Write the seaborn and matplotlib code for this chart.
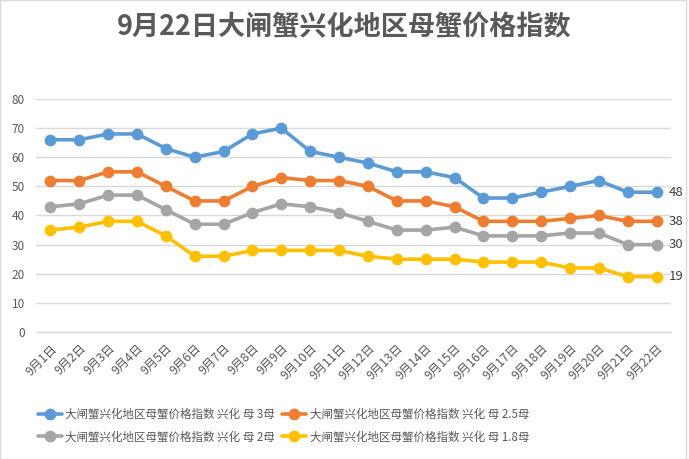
import matplotlib
matplotlib.use("Agg")
import matplotlib.pyplot as plt
import seaborn as sns
import pandas as pd
from matplotlib.patches import Rectangle

dates = [f"9月{d}日" for d in range(1, 23)]
series_names = [
    "大闸蟹兴化地区母蟹价格指数 兴化 母 3母",
    "大闸蟹兴化地区母蟹价格指数 兴化 母 2.5母",
    "大闸蟹兴化地区母蟹价格指数 兴化 母 2母",
    "大闸蟹兴化地区母蟹价格指数 兴化 母 1.8母",
]
s3 = [66, 66, 68, 68, 63, 60, 62, 68, 70, 62, 60, 58, 55, 55, 53, 46, 46, 48, 50, 52, 48, 48]
s25 = [52, 52, 55, 55, 50, 45, 45, 50, 53, 52, 52, 50, 45, 45, 43, 38, 38, 38, 39, 40, 38, 38]
s2 = [43, 44, 47, 47, 42, 37, 37, 41, 44, 43, 41, 38, 35, 35, 36, 33, 33, 33, 34, 34, 30, 30]
s18 = [35, 36, 38, 38, 33, 26, 26, 28, 28, 28, 28, 26, 25, 25, 25, 24, 24, 24, 22, 22, 19, 19]
colors = ["#5B9BD5", "#ED7D31", "#A5A5A5", "#FFC000"]

sns.set_theme(style="white")
plt.rcParams["font.family"] = ["Noto Sans CJK SC", "DejaVu Sans"]

rows = []
for name, vals in zip(series_names, [s3, s25, s2, s18]):
    for d, v in zip(dates, vals):
        rows.append({"date": d, "value": v, "series": name})
df = pd.DataFrame(rows)

fig = plt.figure(figsize=(6.89, 4.59), dpi=100)
ax = fig.add_axes([36 / 689, 1 - 332 / 459, (671 - 36) / 689, (332 - 99) / 459])

sns.pointplot(data=df, x="date", y="value", hue="series", order=dates,
              hue_order=series_names, palette=colors, markers="o",
              linewidth=2.6, markersize=6.5, errorbar=None, ax=ax, legend=True)

ax.set_ylim(0, 80)
ax.set_xlim(-0.5, len(dates) - 0.5)
ax.set_yticks(range(0, 81, 10))
ax.yaxis.grid(True, color="#D9D9D9", linewidth=1)
ax.set_axisbelow(True)
for sp in ["left", "right", "top"]:
    ax.spines[sp].set_visible(False)
ax.spines["bottom"].set_color("#D9D9D9")
ax.spines["bottom"].set_linewidth(1)
ax.set_xlabel("")
ax.set_ylabel("")
ax.tick_params(axis="y", length=0, labelsize=8.5, labelcolor="#595959", pad=8)
ax.set_xticks(range(len(dates)))
ax.set_xticklabels(dates, rotation=45, ha="right", rotation_mode="anchor",
                   fontsize=8.8, color="#595959")
ax.tick_params(axis="x", length=0, pad=7)
ax.set_xticks([i - 0.5 for i in range(len(dates) + 1)], minor=True)
ax.tick_params(axis="x", which="minor", length=5, color="#D9D9D9", width=1)

for vals in [s3, s25, s2, s18]:
    ax.annotate(str(vals[-1]), xy=(len(dates) - 1, vals[-1]), xytext=(9, 0),
                textcoords="offset points", va="center", ha="left",
                fontsize=9.5, color="#404040")

handles, labels = ax.get_legend_handles_labels()
order = [0, 2, 1, 3]
ax.legend([handles[i] for i in order], [labels[i] for i in order], ncol=2,
          loc="upper left", bbox_to_anchor=(33 / 689, 1 - 403 / 459),
          bbox_transform=fig.transFigure, frameon=False, fontsize=8.3,
          labelcolor="#595959", handlelength=2.1, columnspacing=0.6,
          handletextpad=0.3, labelspacing=0.85, borderaxespad=0)

fig.text(0.5, 1 - 27 / 459, "9月22日大闸蟹兴化地区母蟹价格指数", ha="center",
         va="center", fontsize=19.5, fontweight="bold", color="#595959")
fig.patches.append(Rectangle((0, 0), 1 - 3 / 689, 1, transform=fig.transFigure,
                             fill=False, edgecolor="#D9D9D9", linewidth=1))

fig.savefig("out.png", dpi=100)
